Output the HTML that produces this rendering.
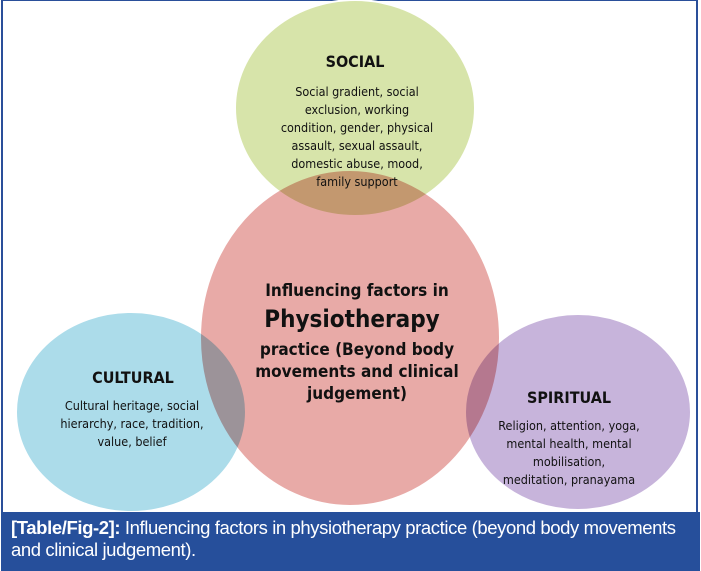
<!DOCTYPE html>
<html><head><meta charset="utf-8"><style>
html,body{margin:0;padding:0;background:#fff}
body{width:701px;height:571px;position:relative;overflow:hidden;font-family:"Liberation Sans",sans-serif}
.frame{position:absolute;left:1px;top:0;width:697px;height:512px;border-left:2px solid #2a4f9a;border-right:2px solid #2a4f9a;border-top:1px solid #2a4f9a;box-sizing:border-box}
.cap{position:absolute;left:1px;top:512px;width:699px;height:59px;background:#264f9b;color:#fff;font-size:18.5px;line-height:22px;padding:5px 0 0 10px;box-sizing:border-box;letter-spacing:-0.4px;white-space:nowrap}
svg text{font-family:"DejaVu Sans Condensed","Liberation Sans",sans-serif;fill:#111}
</style></head><body>
<div class="frame"></div>
<svg width="701" height="512" style="position:absolute;left:0;top:0">
<g stroke="#fff" stroke-width="2">
<ellipse cx="355" cy="108" rx="120" ry="108" fill="#d7e4aa"/>
<ellipse cx="350" cy="338" rx="150" ry="168" fill="#e8aaa7" style="mix-blend-mode:multiply"/>
<ellipse cx="131" cy="412" rx="115" ry="100" fill="#acdcea" style="mix-blend-mode:multiply"/>
<ellipse cx="578" cy="412" rx="113" ry="98" fill="#c7b4db" style="mix-blend-mode:multiply"/>
</g>
<g text-anchor="middle" font-size="12.5">
<text x="355" y="67" font-size="16" font-weight="bold">SOCIAL</text>
<text x="357" y="96">Social gradient, social</text>
<text x="357" y="114">exclusion, working</text>
<text x="357" y="132">condition, gender, physical</text>
<text x="357" y="150">assault, sexual assault,</text>
<text x="357" y="168">domestic abuse, mood,</text>
<text x="357" y="186">family support</text>
<text x="357" y="296" font-size="17" font-weight="bold">Influencing factors in</text>
<text x="352" y="327" font-size="24" font-weight="bold">Physiotherapy</text>
<text x="357" y="355" font-size="17" font-weight="bold">practice (Beyond body</text>
<text x="357" y="377" font-size="17" font-weight="bold">movements and clinical</text>
<text x="357" y="399" font-size="17" font-weight="bold">judgement)</text>
<text x="133" y="383" font-size="16" font-weight="bold">CULTURAL</text>
<text x="132" y="410">Cultural heritage, social</text>
<text x="132" y="428">hierarchy, race, tradition,</text>
<text x="132" y="446">value, belief</text>
<text x="569" y="403" font-size="16" font-weight="bold">SPIRITUAL</text>
<text x="569" y="430">Religion, attention, yoga,</text>
<text x="569" y="448">mental health, mental</text>
<text x="569" y="466">mobilisation,</text>
<text x="569" y="484">meditation, pranayama</text>
</g>
</svg>
<div class="cap"><b>[Table/Fig-2]:</b> Influencing factors in physiotherapy practice (beyond body movements<br>and clinical judgement).</div>
</body></html>
